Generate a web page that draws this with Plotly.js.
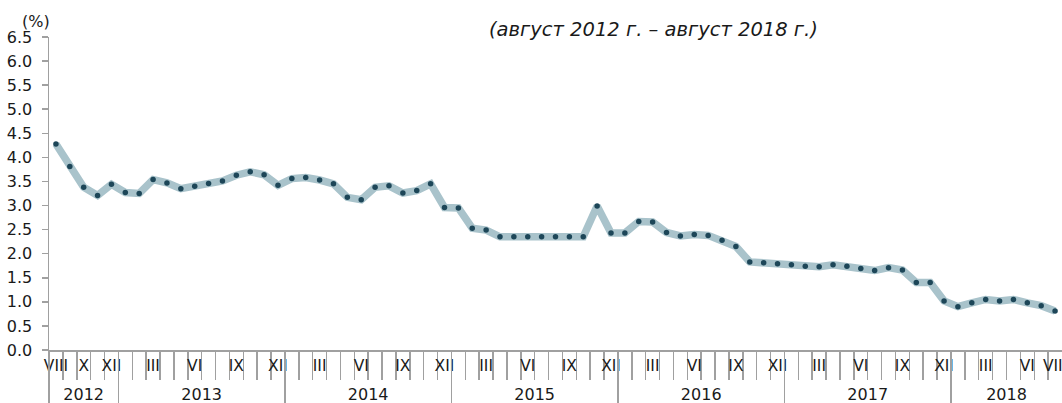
<!DOCTYPE html>
<html>
<head>
<meta charset="utf-8">
<script src="https://cdn.plot.ly/plotly-3.0.1.min.js"></script>
<style>html,body{margin:0;padding:0;background:#fff}#chart{width:1062px;height:403px}</style>
</head>
<body>
<div id="chart"></div>
<script>
// Monthly values, August 2012 .. August 2018 (%)
const values = [
  4.28, 3.81, 3.38, 3.21, 3.44,
  3.27, 3.25, 3.54, 3.47, 3.35, 3.40, 3.46, 3.51, 3.63, 3.70, 3.64, 3.42,
  3.56, 3.58, 3.53, 3.45, 3.17, 3.12, 3.38, 3.41, 3.26, 3.31, 3.45, 2.96,
  2.95, 2.53, 2.49, 2.35, 2.35, 2.35, 2.35, 2.35, 2.35, 2.35, 2.99, 2.43,
  2.43, 2.67, 2.66, 2.44, 2.37, 2.40, 2.38, 2.28, 2.15, 1.83, 1.81, 1.79,
  1.77, 1.74, 1.73, 1.77, 1.74, 1.69, 1.65, 1.71, 1.66, 1.40, 1.40, 1.02,
  0.90, 0.98, 1.05, 1.02, 1.05, 0.98, 0.92, 0.81
];
// Month labels shown under the axis and the month index (from Aug 2012) they belong to
const monthLabels = ['VIII','X','XII',
  'III','VI','IX','XII', 'III','VI','IX','XII', 'III','VI','IX','XII',
  'III','VI','IX','XII', 'III','VI','IX','XII', 'III','VI','VIII'];
const monthLabelIndex = [0,2,4, 7,10,13,16, 19,22,25,28, 31,34,37,40, 43,46,49,52, 55,58,61,64, 67,70,72];
const years = ['2012','2013','2014','2015','2016','2017','2018'];
const monthsInYear = [5,12,12,12,12,12,8];
const subtitle = '(август 2012 г. – август 2018 г.)';
const unitLabel = '(%)';

const n = values.length;
const xIdx = values.map((v,i)=>i);
const boundaries = [];
for (let i = 0; i < n - 1; i++) boundaries.push(i + 0.5);
const yearEdges = [-0.5];
monthsInYear.forEach(m => yearEdges.push(yearEdges[yearEdges.length-1] + m));
const yearCenters = years.map((y,i)=>(yearEdges[i]+yearEdges[i+1])/2);
const yearSeparators = yearEdges.slice(0, years.length);

const FONT = 'DejaVu Sans, sans-serif';
const TXT = '#1a1a1a';
const AX = '#a0a0a0';
const xr = [-0.5, n - 0.5];

const traces = [
  {type:'scatter', mode:'lines', x:xIdx, y:values, xaxis:'x', yaxis:'y',
   line:{color:'#a9c3cb', width:7.5}, hoverinfo:'skip', showlegend:false},
  {type:'scatter', mode:'markers', x:xIdx, y:values, xaxis:'x', yaxis:'y',
   marker:{color:'#1d4658', size:5.5}, hoverinfo:'skip', showlegend:false},
  {type:'scatter', mode:'markers', x:[0], y:[null], xaxis:'x2', yaxis:'y', showlegend:false, hoverinfo:'skip'},
  {type:'scatter', mode:'markers', x:[0], y:[null], xaxis:'x3', yaxis:'y', showlegend:false, hoverinfo:'skip'},
  {type:'scatter', mode:'markers', x:[0], y:[null], xaxis:'x4', yaxis:'y', showlegend:false, hoverinfo:'skip'}
];

const baseX = {range:xr, showgrid:false, zeroline:false, fixedrange:true};

const layout = {
  width:1062, height:403,
  margin:{l:49, r:0, t:37, b:53},
  paper_bgcolor:'#fff', plot_bgcolor:'#fff',
  font:{family:FONT, size:16, color:TXT},
  showlegend:false,
  xaxis:Object.assign({}, baseX, {
    showline:true, linecolor:AX, linewidth:1.5,
    tickmode:'array', tickvals:boundaries, ticks:'outside', ticklen:28, tickwidth:1.5, tickcolor:AX,
    showticklabels:false
  }),
  xaxis2:Object.assign({}, baseX, {
    overlaying:'x', anchor:'y', side:'bottom',
    tickmode:'array', tickvals:monthLabelIndex, ticktext:monthLabels,
    ticks:'outside', ticklen:1, tickcolor:'rgba(0,0,0,0)', ticklabeloverflow:'allow',
    tickfont:{family:FONT, size:15.5, color:TXT}
  }),
  xaxis3:Object.assign({}, baseX, {
    overlaying:'x', anchor:'y', side:'bottom',
    tickmode:'array', tickvals:yearCenters, ticktext:years,
    ticks:'outside', ticklen:30, tickcolor:'rgba(0,0,0,0)', ticklabeloverflow:'allow',
    tickfont:{family:FONT, size:16, color:TXT}
  }),
  xaxis4:Object.assign({}, baseX, {
    overlaying:'x', anchor:'y', side:'bottom',
    tickmode:'array', tickvals:yearSeparators, ticks:'outside', ticklen:53, tickwidth:1.5, tickcolor:AX,
    showticklabels:false
  }),
  yaxis:{
    range:[0,6.5], tickmode:'linear', tick0:0, dtick:0.5, tickformat:'.1f',
    showline:true, linecolor:AX, linewidth:1.5,
    ticks:'outside', ticklen:6, tickwidth:1.5, tickcolor:AX, ticklabelstandoff:6,
    showgrid:false, zeroline:false, fixedrange:true,
    tickfont:{family:FONT, size:16, color:TXT}
  },
  annotations:[
    {text:unitLabel, xref:'paper', yref:'paper', x:-0.0125, y:1.05, xanchor:'center', yanchor:'middle',
     showarrow:false, font:{family:FONT, size:16, color:TXT}},
    {text:'<i>'+subtitle+'</i>', xref:'paper', yref:'paper', x:0.597, y:1.025, xanchor:'center', yanchor:'middle',
     showarrow:false, font:{family:FONT, size:19.5, color:TXT}}
  ]
};

Plotly.newPlot('chart', traces, layout, {displayModeBar:false, staticPlot:true});
</script>
</body>
</html>
